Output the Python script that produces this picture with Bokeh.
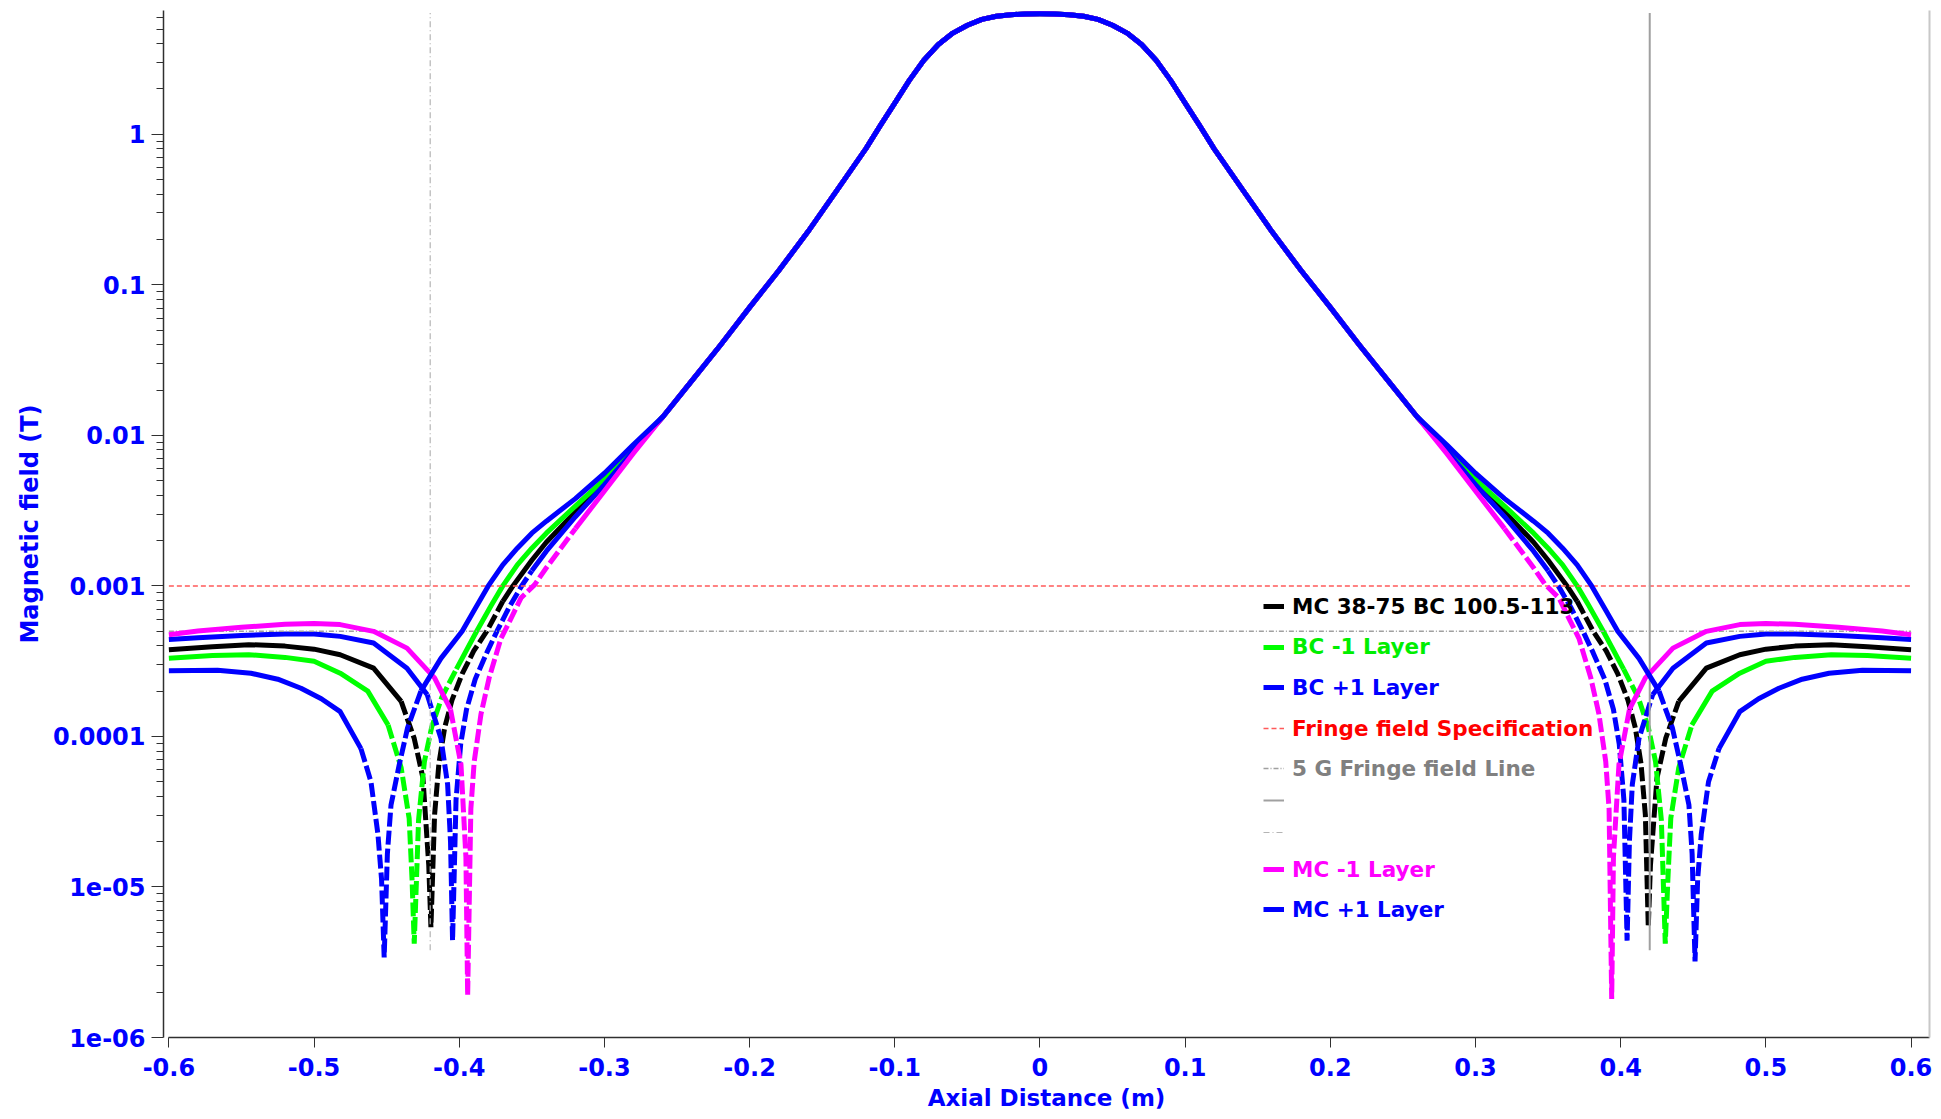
from bokeh.plotting import figure
from bokeh.models import (Range1d, FixedTicker, CustomJSTickFormatter, Legend,
                          LegendItem, LogAxis)
from bokeh.core.properties import value
from bokeh.embed import file_html
from bokeh.resources import INLINE

# ---------------- data ----------------
X_TICKS = [-0.6, -0.5, -0.4, -0.3, -0.2, -0.1, 0.0, 0.1, 0.2, 0.3, 0.4, 0.5, 0.6]
X_TICK_LABELS = ["-0.6", "-0.5", "-0.4", "-0.3", "-0.2", "-0.1", "0",
                 "0.1", "0.2", "0.3", "0.4", "0.5", "0.6"]
Y_TICKS = [1e-6, 1e-5, 1e-4, 1e-3, 1e-2, 1e-1, 1.0]
Y_TICK_LABELS = ["1e-06", "1e-05", "0.0001", "0.001", "0.01", "0.1", "1"]

# central profile shared by all five series (T)
CORE_X = [-0.26, -0.24, -0.22, -0.20, -0.18, -0.16, -0.14, -0.12,
          -0.11, -0.10, -0.09, -0.08, -0.07, -0.06, -0.05, -0.04, -0.03, -0.02, -0.01,
          0.0,
          0.01, 0.02, 0.03, 0.04, 0.05, 0.06, 0.07, 0.08, 0.09, 0.10, 0.11,
          0.12, 0.14, 0.16, 0.18, 0.20, 0.22, 0.24, 0.26]
CORE_B = [0.0132, 0.0229, 0.0398, 0.0708, 0.124, 0.224, 0.422, 0.80,
          1.14, 1.61, 2.28, 3.10, 3.95, 4.70, 5.30, 5.80, 6.08, 6.23, 6.30,
          6.31,
          6.30, 6.23, 6.08, 5.80, 5.30, 4.70, 3.95, 3.10, 2.28, 1.61, 1.14,
          0.80, 0.422, 0.224, 0.124, 0.0708, 0.0398, 0.0229, 0.0132]

# MC 38-75 BC 100.5-113 (black)
BASE_LEFT_X = [-0.6, -0.57, -0.545, -0.52, -0.5, -0.482, -0.459, -0.44, -0.431, -0.425,
               -0.421, -0.4195, -0.417, -0.414, -0.41, -0.405, -0.398, -0.39, -0.381,
               -0.37, -0.363, -0.35, -0.34, -0.32, -0.3, -0.28]
BASE_LEFT_B = [3.77e-4, 3.94e-4, 4.07e-4, 3.98e-4, 3.80e-4, 3.49e-4, 2.84e-4, 1.71e-4, 9.7e-5,
               5.3e-5, 1.4e-5, 5.4e-6, 3.0e-5, 6.6e-5, 1.15e-4, 1.74e-4, 2.6e-4, 3.7e-4, 5.0e-4,
               7.9e-4, 1.0e-3, 1.48e-3, 1.95e-3, 3.1e-3, 4.9e-3, 8.1e-3]
BASE_RIGHT_X = [0.28, 0.3, 0.32, 0.34, 0.35, 0.363, 0.37, 0.381, 0.39, 0.398, 0.405, 0.41,
                0.414, 0.417, 0.419, 0.4205, 0.425, 0.431, 0.44, 0.459, 0.482, 0.5, 0.52,
                0.545, 0.57, 0.6]
BASE_RIGHT_B = [8.1e-3, 4.9e-3, 3.1e-3, 1.95e-3, 1.48e-3, 1.0e-3, 7.9e-4, 5.0e-4, 3.7e-4,
                2.6e-4, 1.74e-4, 1.15e-4, 6.6e-5, 3.0e-5, 5.4e-6, 1.4e-5, 5.3e-5, 9.7e-5,
                1.71e-4, 2.84e-4, 3.49e-4, 3.80e-4, 3.98e-4, 4.07e-4, 3.94e-4, 3.77e-4]

# BC -1 Layer (green)
BCM_LEFT_X = [-0.6, -0.57, -0.545, -0.52, -0.5, -0.482, -0.463, -0.449, -0.44, -0.4345,
              -0.4325, -0.431, -0.428, -0.424, -0.419, -0.412, -0.402, -0.388, -0.378,
              -0.37, -0.36, -0.35, -0.34, -0.32, -0.3, -0.28]
BCM_LEFT_B = [3.31e-4, 3.45e-4, 3.49e-4, 3.35e-4, 3.16e-4, 2.63e-4, 2.0e-4, 1.19e-4, 6.2e-5,
              2.86e-5, 1.12e-5, 4.2e-6, 2.8e-5, 6.8e-5, 1.15e-4, 1.82e-4, 2.8e-4, 5.0e-4,
              7.4e-4, 1.0e-3, 1.38e-3, 1.78e-3, 2.24e-3, 3.39e-3, 5.1e-3, 8.3e-3]
BCM_RIGHT_X = [0.28, 0.3, 0.32, 0.34, 0.35, 0.36, 0.37, 0.378, 0.388, 0.402, 0.412, 0.419,
               0.424, 0.428, 0.4307, 0.4325, 0.4345, 0.44, 0.449, 0.463, 0.482, 0.5, 0.52,
               0.545, 0.57, 0.6]
BCM_RIGHT_B = [8.3e-3, 5.1e-3, 3.39e-3, 2.24e-3, 1.78e-3, 1.38e-3, 1.0e-3, 7.4e-4, 5.0e-4,
               2.8e-4, 1.82e-4, 1.15e-4, 6.8e-5, 2.8e-5, 4.2e-6, 1.12e-5, 2.86e-5, 6.2e-5,
               1.19e-4, 2.0e-4, 2.63e-4, 3.16e-4, 3.35e-4, 3.49e-4, 3.45e-4, 3.31e-4]

# BC +1 Layer (blue)
BCP_LEFT_X = [-0.6, -0.58, -0.55, -0.52, -0.5, -0.482, -0.459, -0.436, -0.422, -0.4126,
              -0.408, -0.406, -0.4046, -0.4022, -0.399, -0.395, -0.389, -0.381, -0.374,
              -0.366, -0.357, -0.35, -0.34, -0.32, -0.3, -0.28]
BCP_LEFT_B = [4.40e-4, 4.52e-4, 4.68e-4, 4.79e-4, 4.79e-4, 4.62e-4, 4.17e-4, 2.84e-4, 1.89e-4,
              9.7e-5, 4.8e-5, 2.0e-5, 4.4e-6, 3.8e-5, 8.9e-5, 1.51e-4, 2.4e-4, 3.6e-4, 5.0e-4,
              7.1e-4, 1.0e-3, 1.26e-3, 1.70e-3, 2.88e-3, 4.7e-3, 7.9e-3]
BCP_RIGHT_X = [0.28, 0.3, 0.32, 0.34, 0.35, 0.357, 0.366, 0.374, 0.381, 0.389, 0.395, 0.399,
               0.4022, 0.4044, 0.406, 0.408, 0.4126, 0.422, 0.436, 0.459, 0.482, 0.5, 0.52,
               0.55, 0.58, 0.6]
BCP_RIGHT_B = [7.9e-3, 4.7e-3, 2.88e-3, 1.70e-3, 1.26e-3, 1.0e-3, 7.1e-4, 5.0e-4, 3.6e-4,
               2.4e-4, 1.51e-4, 8.9e-5, 3.8e-5, 4.4e-6, 2.0e-5, 4.8e-5, 9.7e-5, 1.89e-4,
               2.84e-4, 4.17e-4, 4.62e-4, 4.79e-4, 4.79e-4, 4.68e-4, 4.52e-4, 4.40e-4]

# MC -1 Layer (magenta)
MCM_LEFT_X = [-0.6, -0.58, -0.55, -0.52, -0.5, -0.482, -0.459, -0.436, -0.417, -0.406,
              -0.3988, -0.3954, -0.3942, -0.392, -0.3897, -0.385, -0.3794, -0.3713, -0.365,
              -0.3575, -0.348, -0.34, -0.32, -0.3, -0.28]
MCM_LEFT_B = [4.74e-4, 5.01e-4, 5.31e-4, 5.56e-4, 5.62e-4, 5.53e-4, 4.99e-4, 3.86e-4, 2.45e-4,
              1.51e-4, 6.5e-5, 1.58e-5, 1.9e-6, 3.3e-5, 6.8e-5, 1.41e-4, 2.45e-4, 4.47e-4,
              5.9e-4, 8.3e-4, 1.02e-3, 1.32e-3, 2.40e-3, 4.27e-3, 7.6e-3]
MCM_RIGHT_X = [0.28, 0.3, 0.32, 0.34, 0.348, 0.3575, 0.365, 0.3713, 0.3794, 0.385, 0.3897,
               0.392, 0.3938, 0.395, 0.3988, 0.406, 0.417, 0.436, 0.459, 0.482, 0.5, 0.52,
               0.55, 0.58, 0.6]
MCM_RIGHT_B = [7.6e-3, 4.27e-3, 2.40e-3, 1.32e-3, 1.02e-3, 8.3e-4, 5.9e-4, 4.47e-4, 2.45e-4,
               1.41e-4, 6.8e-5, 3.3e-5, 1.8e-6, 1.58e-5, 6.5e-5, 1.51e-4, 2.45e-4, 3.86e-4,
               4.99e-4, 5.53e-4, 5.62e-4, 5.56e-4, 5.31e-4, 5.01e-4, 4.74e-4]

# MC +1 Layer (blue)
MCP_LEFT_X = [-0.6, -0.5665, -0.5435, -0.525, -0.509, -0.495, -0.482, -0.4677, -0.4608,
              -0.456, -0.4535, -0.4517, -0.4495, -0.447, -0.4413, -0.4356, -0.4264, -0.4126,
              -0.398, -0.39, -0.38, -0.37, -0.36, -0.35, -0.34, -0.32, -0.3, -0.28]
MCP_LEFT_B = [2.73e-4, 2.75e-4, 2.63e-4, 2.40e-4, 2.09e-4, 1.78e-4, 1.46e-4, 8.3e-5, 5.0e-5,
              2.24e-5, 1.12e-5, 3.4e-6, 1.66e-5, 3.5e-5, 6.5e-5, 1.14e-4, 2.0e-4, 3.3e-4,
              5.0e-4, 6.8e-4, 1.0e-3, 1.38e-3, 1.78e-3, 2.24e-3, 2.69e-3, 3.8e-3, 5.6e-3, 8.7e-3]
MCP_RIGHT_X = [0.28, 0.3, 0.32, 0.34, 0.35, 0.36, 0.37, 0.38, 0.39, 0.398, 0.4126, 0.4264,
               0.4356, 0.4413, 0.447, 0.4492, 0.4512, 0.453, 0.4555, 0.4605, 0.4677, 0.482,
               0.495, 0.509, 0.525, 0.5435, 0.5665, 0.6]
MCP_RIGHT_B = [8.7e-3, 5.6e-3, 3.8e-3, 2.69e-3, 2.24e-3, 1.78e-3, 1.38e-3, 1.0e-3, 6.8e-4,
               5.0e-4, 3.3e-4, 2.0e-4, 1.14e-4, 6.5e-5, 3.5e-5, 1.66e-5, 3.2e-6, 1.12e-5,
               2.24e-5, 5.0e-5, 8.3e-5, 1.46e-4, 1.78e-4, 2.09e-4, 2.40e-4, 2.63e-4, 2.75e-4,
               2.73e-4]

# reference lines
HLINE_X = [-0.6, 0.6]
SPEC_B = [1e-3, 1e-3]          # Fringe field Specification
FIVE_G_B = [5e-4, 5e-4]        # 5 G Fringe field Line
VLINE_LEFT_X = [-0.42, -0.42]
VLINE_RIGHT_X = [0.42, 0.42]
VLINE_B = [3.8e-6, 6.4]

# ---------------- figure ----------------
FONT = "DejaVu Sans"
BLUE = "#0000ff"

FRAME_LEFT, FRAME_TOP, FRAME_BOTTOM = 163, 10, 1037

p = figure(width=1933, height=1114, output_backend="svg", toolbar_location=None,
           y_axis_type="log",
           x_range=Range1d(-0.6037, 0.6127), y_range=Range1d(1e-6, 6.64))
p.min_border_left = FRAME_LEFT
p.min_border_right = 4
p.min_border_top = FRAME_TOP
p.min_border_bottom = 1114 - FRAME_BOTTOM
p.outline_line_color = None
p.background_fill_color = "white"
p.border_fill_color = "white"
p.xgrid.visible = False
p.ygrid.visible = False

xfmt = CustomJSTickFormatter(args=dict(tick_values=X_TICKS, tick_labels=X_TICK_LABELS), code="""
let bi = 0, bd = 1e9;
for (let i = 0; i < tick_values.length; i++) {
  const d = Math.abs(tick - tick_values[i]);
  if (d < bd) { bd = d; bi = i; }
}
return tick_labels[bi];
""")
yfmt = CustomJSTickFormatter(args=dict(tick_values=Y_TICKS, tick_labels=Y_TICK_LABELS), code="""
let bi = 0, bd = 1e9;
for (let i = 0; i < tick_values.length; i++) {
  const d = Math.abs(Math.log10(tick) - Math.log10(tick_values[i]));
  if (d < bd) { bd = d; bi = i; }
}
return tick_labels[bi];
""")

minor_y = [m * 10.0 ** e for e in range(-6, 1) for m in range(2, 10)]

xa = p.xaxis[0]
xa.ticker = FixedTicker(ticks=X_TICKS, minor_ticks=[])
xa.formatter = xfmt
xa.bounds = (-0.6, 0.6127)
xa.axis_label = "Axial Distance (m)"
xa.axis_label_text_font = FONT
xa.axis_label_text_font_style = "bold"
xa.axis_label_text_font_size = "23px"
xa.axis_label_text_color = BLUE
xa.axis_label_standoff = 6
xa.major_label_text_font = FONT
xa.major_label_text_font_style = "bold"
xa.major_label_text_font_size = "24px"
xa.major_label_text_color = BLUE
xa.major_label_standoff = 10
xa.major_tick_out = 10
xa.major_tick_in = 0
xa.minor_tick_out = 0
xa.minor_tick_in = 0
xa.axis_line_color = "#303030"
xa.axis_line_width = 1.5
xa.major_tick_line_color = "#303030"

ya = p.yaxis[0]
ya.ticker = FixedTicker(ticks=Y_TICKS, minor_ticks=minor_y)
ya.formatter = yfmt
ya.axis_label = "Magnetic field (T)"
ya.axis_label_text_font = FONT
ya.axis_label_text_font_style = "bold"
ya.axis_label_text_font_size = "24px"
ya.axis_label_text_color = BLUE
ya.axis_label_standoff = 6
ya.major_label_text_font = FONT
ya.major_label_text_font_style = "bold"
ya.major_label_text_font_size = "24px"
ya.major_label_text_color = BLUE
ya.major_label_standoff = 6
ya.major_tick_out = 12
ya.major_tick_in = 0
ya.minor_tick_out = 7
ya.minor_tick_in = 0
ya.axis_line_color = "#303030"
ya.axis_line_width = 1.5
ya.major_tick_line_color = "#303030"
ya.minor_tick_line_color = "#303030"

border = LogAxis(ticker=FixedTicker(ticks=[]), axis_line_color="#c8c8c8", axis_line_width=2,
                 major_tick_line_color=None, minor_tick_line_color=None,
                 major_label_text_font_size="0px", major_label_standoff=0,
                 major_tick_out=0, minor_tick_out=0)
p.add_layout(border, "right")


def split_runs(xs, bs, left_dip, right_dip, thr_in, thr_out):
    solid, dashed = [], []
    cur_flag, cur = None, None
    for i in range(len(xs) - 1):
        xm = 0.5 * (xs[i] + xs[i + 1])
        outer = xm < left_dip or xm > right_dip
        thr = thr_out if outer else thr_in
        flag = min(bs[i], bs[i + 1]) < thr
        if flag != cur_flag:
            cur = ([xs[i]], [bs[i]])
            (dashed if flag else solid).append(cur)
            cur_flag = flag
        cur[0].append(xs[i + 1])
        cur[1].append(bs[i + 1])
    return solid, dashed


def draw_series(lx, lb, rx, rb, color, thr_in, thr_out):
    xs = lx + CORE_X + rx
    bs = lb + CORE_B + rb
    left_dip = lx[lb.index(min(lb))]
    right_dip = rx[rb.index(min(rb))]
    solid, dashed = split_runs(xs, bs, left_dip, right_dip, thr_in, thr_out)
    r_solid = p.multi_line(xs=[s[0] for s in solid], ys=[s[1] for s in solid],
                           line_color=color, line_width=5, line_join="round")
    if dashed:
        p.multi_line(xs=[s[0] for s in dashed], ys=[s[1] for s in dashed],
                     line_color=color, line_width=5, line_dash="14 4")
    return r_solid


r_base = draw_series(BASE_LEFT_X, BASE_LEFT_B, BASE_RIGHT_X, BASE_RIGHT_B, "#000000", 7e-4, 1.0e-4)
r_bcm = draw_series(BCM_LEFT_X, BCM_LEFT_B, BCM_RIGHT_X, BCM_RIGHT_B, "#00ff00", 1.9e-4, 1.0e-4)
r_bcp = draw_series(BCP_LEFT_X, BCP_LEFT_B, BCP_RIGHT_X, BCP_RIGHT_B, "#0000ff", 1.05e-3, 1.0e-4)
r_spec = p.line(HLINE_X, SPEC_B, line_color="#ff5a5a", line_width=1.5, line_dash="5 3")
r_5g = p.line(HLINE_X, FIVE_G_B, line_color="#a0a0a0", line_width=1.5, line_dash="5 2 1 2")
r_vr = p.line(VLINE_RIGHT_X, VLINE_B, line_color="#a0a0a0", line_width=2)
r_vl = p.line(VLINE_LEFT_X, VLINE_B, line_color="#b4b4b4", line_width=1.2, line_dash="6 3 1 3")
r_mcm = draw_series(MCM_LEFT_X, MCM_LEFT_B, MCM_RIGHT_X, MCM_RIGHT_B, "#ff00ff", 1.9e-3, 1.0e-4)
r_mcp = draw_series(MCP_LEFT_X, MCP_LEFT_B, MCP_RIGHT_X, MCP_RIGHT_B, "#0000ff", 1.6e-4, 6e-5)

LEGEND_LABELS = ["MC 38-75 BC 100.5-113", "BC -1 Layer", "BC +1 Layer",
                 "Fringe field Specification", "5 G Fringe field Line", " ", " ",
                 "MC -1 Layer", "MC +1 Layer"]
legend_renderers = [r_base, r_bcm, r_bcp, r_spec, r_5g, r_vr, r_vl, r_mcm, r_mcp]
legend_colors = ["#000000", "#00ee00", "#0000ff", "#ff0000", "#808080", "#808080", "#808080",
                 "#ff00ff", "#0000ff"]
row_centers = [606, 646.5, 687, 728, 768, 800, 832, 869, 909]   # page px
for lab, rend, col, c in zip(LEGEND_LABELS, legend_renderers, legend_colors, row_centers):
    leg = Legend(items=[LegendItem(label=value(lab), renderers=[rend])],
                 location=(1263 - FRAME_LEFT, FRAME_BOTTOM - c - 15),
                 padding=0, margin=0, spacing=0,
                 glyph_width=21, glyph_height=30, label_height=30, label_standoff=8,
                 label_text_font=FONT, label_text_font_style="bold",
                 label_text_font_size="21.5px", label_text_color=col,
                 border_line_color=None, background_fill_alpha=0)
    p.add_layout(leg)

open("out.html", "w").write(file_html(p, INLINE))
